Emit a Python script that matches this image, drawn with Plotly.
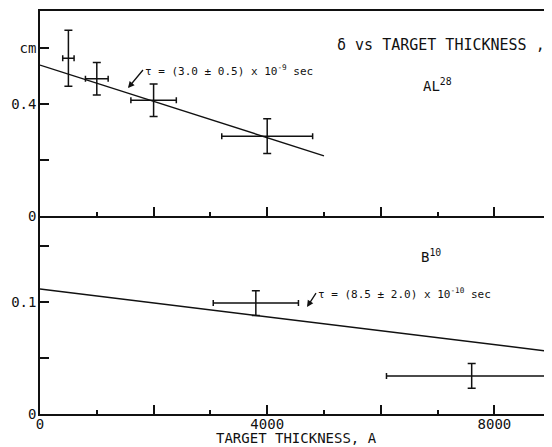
import plotly.graph_objects as go

# ---- data ----
al_x = [500, 1000, 2000, 4000]
al_y = [0.563, 0.490, 0.413, 0.285]
al_xerr = [100, 200, 400, 800]
al_yerr = [0.10, 0.058, 0.058, 0.062]
al_fit_x = [0, 5000]
al_fit_y = [0.539, 0.215]

b_x = [3800, 7600]
b_y = [0.099, 0.034]
b_xerr = [750, 1500]
b_yerr = [0.011, 0.011]
b_fit_x = [0, 9100]
b_fit_y = [0.1116, 0.0551]

x_label_vals = [0, 4000, 8000]
x_label_text = ["0", "4000", "8000"]
x_long_unlabeled = [2000, 6000]
x_short = [1000, 3000, 5000, 7000, 9000]
top_x_long = [0, 2000, 4000, 6000, 8000]
top_label_vals = [0, 0.4, 0.6]
top_label_text = ["0", "0.4", "cm"]
top_unlabeled = [0.2]
bot_label_vals = [0, 0.1]
bot_label_text = ["0", "0.1"]
bot_unlabeled = [0.05, 0.15]

FONT = "DejaVu Sans Mono"
BLK = "#111"
XR = [0, 9014]

fig = go.Figure()

fig.add_trace(go.Scatter(
    x=al_x, y=al_y, mode="markers", marker=dict(size=0.1, color=BLK),
    error_x=dict(type="data", array=al_xerr, color=BLK, thickness=1.5, width=3),
    error_y=dict(type="data", array=al_yerr, color=BLK, thickness=1.5, width=4),
    xaxis="x2", yaxis="y2", showlegend=False))
fig.add_trace(go.Scatter(
    x=al_fit_x, y=al_fit_y, mode="lines", line=dict(color=BLK, width=1.4),
    xaxis="x2", yaxis="y2", showlegend=False))

fig.add_trace(go.Scatter(
    x=b_x, y=b_y, mode="markers", marker=dict(size=0.1, color=BLK),
    error_x=dict(type="data", array=b_xerr, color=BLK, thickness=1.5, width=3),
    error_y=dict(type="data", array=b_yerr, color=BLK, thickness=1.5, width=4),
    xaxis="x", yaxis="y", showlegend=False))
fig.add_trace(go.Scatter(
    x=b_fit_x, y=b_fit_y, mode="lines", line=dict(color=BLK, width=1.4),
    xaxis="x", yaxis="y", showlegend=False))
# invisible carrier for the overlay tick axis
fig.add_trace(go.Scatter(x=[None], y=[None], mode="lines", xaxis="x3", yaxis="y",
                         showlegend=False, hoverinfo="skip"))

split = 198 / 403
tk = dict(ticks="inside", tickwidth=1.5, tickcolor=BLK, automargin=False,
          showgrid=False, zeroline=False)

# the page body has an 8px margin, so the figure is sized to end at the window edge
fig.update_layout(
    width=544, height=439,
    margin=dict(l=32, r=0, t=3, b=33),
    paper_bgcolor="white", plot_bgcolor="white",
    font=dict(family=FONT, color=BLK, size=14),
    xaxis=dict(**tk, range=XR, showline=True, linecolor=BLK, linewidth=1.5,
               anchor="y", tickmode="array", tickvals=x_label_vals,
               ticktext=x_label_text, ticklen=9, ticklabelstandoff=-4,
               tickfont=dict(family=FONT, size=14),
               minor=dict(tickmode="array", tickvals=x_short, ticks="inside",
                          ticklen=4, tickwidth=1.5, tickcolor=BLK)),
    xaxis3=dict(**tk, range=XR, overlaying="x", anchor="y", showline=False,
                tickmode="array", tickvals=x_long_unlabeled, ticklen=9,
                showticklabels=False),
    xaxis2=dict(**tk, range=XR, showline=True, linecolor=BLK, linewidth=1.5,
                mirror=True, anchor="y2", tickmode="array", tickvals=top_x_long,
                ticklen=9, showticklabels=False,
                minor=dict(tickmode="array", tickvals=x_short, ticks="inside",
                           ticklen=4, tickwidth=1.5, tickcolor=BLK)),
    yaxis=dict(**tk, domain=[0, split], range=[0, 198 / 1120], showline=True,
               linecolor=BLK, linewidth=1.5, ticklen=9, tickmode="array",
               tickvals=bot_label_vals, ticktext=bot_label_text,
               ticklabelstandoff=-1,
               tickfont=dict(family=FONT, size=14), anchor="x",
               minor=dict(tickmode="array", tickvals=bot_unlabeled, ticks="inside",
                          ticklen=9, tickwidth=1.5, tickcolor=BLK)),
    yaxis2=dict(**tk, domain=[split, 1], range=[0, 205 / 280], showline=True,
                linecolor=BLK, linewidth=1.5, ticklen=9, tickmode="array",
                tickvals=top_label_vals, ticktext=top_label_text,
                ticklabelstandoff=-1,
                tickfont=dict(family=FONT, size=14), anchor="x2",
                minor=dict(tickmode="array", tickvals=top_unlabeled, ticks="inside",
                           ticklen=9, tickwidth=1.5, tickcolor=BLK)),
)

ann = []
ann.append(dict(text="δ vs TARGET THICKNESS ,", x=7060, y=0.611, xref="x2", yref="y2",
                showarrow=False, font=dict(family=FONT, size=15)))
ann.append(dict(text="AL<sup>28</sup>", x=6990, y=0.468, xref="x2", yref="y2",
                showarrow=False, font=dict(family=FONT, size=14)))
ann.append(dict(text="τ = (3.0 ± 0.5) x 10<sup>-9</sup> sec", x=1549, y=0.457,
                xref="x2", yref="y2", xanchor="left", yanchor="middle",
                showarrow=True, ax=15, ay=-18, arrowhead=2, arrowsize=1,
                arrowwidth=1.3, arrowcolor=BLK, standoff=0,
                font=dict(family=FONT, size=11)))
ann.append(dict(text="B<sup>10</sup>", x=6884, y=0.141, xref="x", yref="y",
                showarrow=False, font=dict(family=FONT, size=14)))
ann.append(dict(text="τ = (8.5 ± 2.0) x 10<sup>-10</sup> sec", x=4701, y=0.0955,
                xref="x", yref="y", xanchor="left", yanchor="middle",
                showarrow=True, ax=9, ay=-14, arrowhead=2, arrowsize=1,
                arrowwidth=1.3, arrowcolor=BLK, standoff=0,
                font=dict(family=FONT, size=11)))
ann.append(dict(text="TARGET THICKNESS, A", x=0.5, y=-24 / 403, xref="paper",
                yref="paper", yanchor="middle", showarrow=False,
                font=dict(family=FONT, size=14)))
fig.update_layout(annotations=ann)

fig.write_html("out.html")
